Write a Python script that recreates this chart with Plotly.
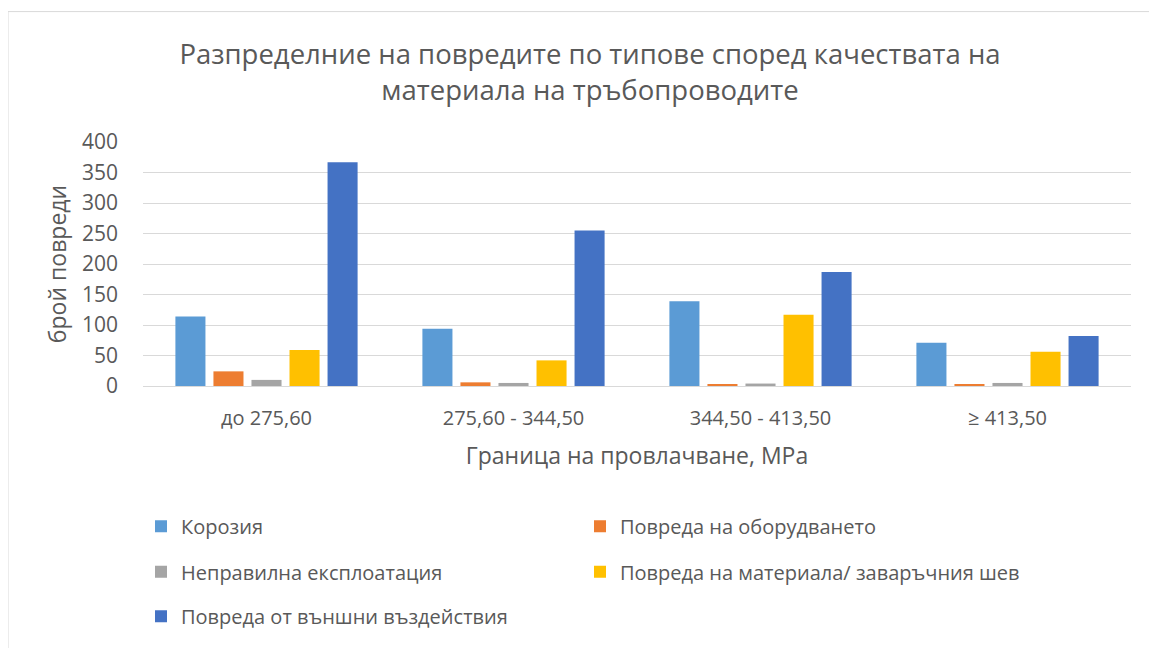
import plotly.graph_objects as go

categories = ["до 275,60", "275,60 - 344,50", "344,50 - 413,50", "≥ 413,50"]
korozia = [114, 94, 139, 71]
oborudvane = [24, 6, 3, 3]
nepravilna = [10, 5, 4, 5]
material = [59, 42, 117, 56]
vanshni = [367, 255, 187, 82]

series = [
    ("Корозия", korozia, "#5B9BD5", "legend"),
    ("Повреда на оборудването", oborudvane, "#ED7D31", "legend"),
    ("Неправилна експлоатация", nepravilna, "#A5A5A5", "legend2"),
    ("Повреда на материала/ заваръчния шев", material, "#FFC000", "legend2"),
    ("Повреда от външни въздействия", vanshni, "#4472C4", "legend3"),
]

FONT = "Open Sans"
TXT = "#595959"

fig = go.Figure()
for name, vals, color, lg in series:
    fig.add_trace(go.Bar(x=categories, y=vals, name=name, marker_color=color,
                         marker_line_width=0, legend=lg))

# page offset of the figure (browser body margin)
OFF = 8
W, H = 1149, 640
# desired plot area in page pixels
PL, PR, PT, PB = 143, 1131, 142, 389
L, T = PL - OFF, PT - OFF
R = W - (PR - OFF)
B = H - (PB - OFF)
pw = PR - PL
ph = PB - PT

def px_x(x):
    return (x - PL) / pw

def px_y(y):
    return (PB - y) / ph

legend_common = dict(orientation="h", font=dict(family=FONT, size=20, color=TXT),
                     entrywidth=394, entrywidthmode="pixels", xanchor="left",
                     yanchor="middle", bgcolor="rgba(0,0,0,0)", traceorder="normal")

fig.update_layout(
    width=W, height=H,
    margin=dict(l=L, r=R, t=T, b=B),
    paper_bgcolor="white", plot_bgcolor="white",
    font=dict(family=FONT, color=TXT),
    title=dict(text="Разпределние на повредите по типове според качествата на<br>материала на тръбопроводите",
               font=dict(family=FONT, size=27.5, color=TXT),
               x=px_x(590), xref="paper", xanchor="center",
               y=1 - (64 - OFF) / H, yref="container", yanchor="middle"),
    barmode="group", bargap=0.23, bargroupgap=0.21,
    legend=dict(x=px_x(141), y=px_y(531), **legend_common),
    legend2=dict(x=px_x(141), y=px_y(577), **legend_common),
    legend3=dict(x=px_x(141), y=px_y(622), **legend_common),
    xaxis=dict(showgrid=False, showline=True, linecolor="#D9D9D9", linewidth=1,
               tickfont=dict(family=FONT, size=20, color=TXT), ticks="",
               ticklabelstandoff=14,
               title=dict(text="Граница на провлачване, MPa",
                          font=dict(family=FONT, size=23, color=TXT), standoff=17)),
    yaxis=dict(range=[0, 400], dtick=50, showgrid=True, gridcolor="#D9D9D9", gridwidth=1,
               zeroline=False, showline=False,
               tickfont=dict(family=FONT, size=21, color=TXT), ticklabelstandoff=24,
               title=dict(text="брой повреди", font=dict(family=FONT, size=23, color=TXT),
                          standoff=8)),
    shapes=[dict(type="rect", xref="paper", yref="paper",
                 x0=px_x(8), x1=px_x(1175), y0=px_y(670), y1=px_y(10),
                 line=dict(color="#D9D9D9", width=1), fillcolor="rgba(0,0,0,0)", layer="below")],
)

fig.write_html("out.html")
